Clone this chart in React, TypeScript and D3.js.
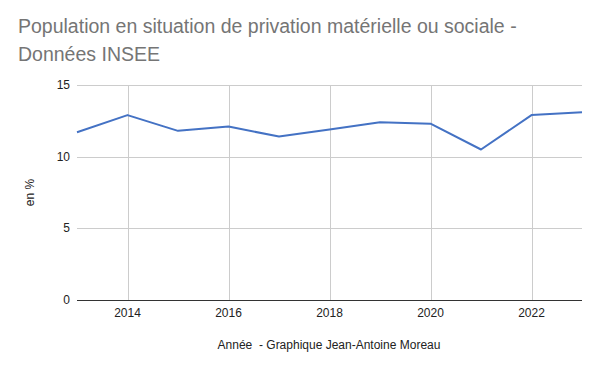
import { useEffect, useRef } from "react"
import * as d3 from "d3"

const years = [2013, 2014, 2015, 2016, 2017, 2018, 2019, 2020, 2021, 2022, 2023]
const values = [11.7, 12.9, 11.8, 12.1, 11.4, 11.9, 12.4, 12.3, 10.5, 12.9, 13.1]
const yTicks = [0, 5, 10, 15]
const xTicks = [2014, 2016, 2018, 2020, 2022]

export default function App() {
  const svgRef = useRef(null)

  useEffect(() => {
    if (!svgRef.current) return
    const svg = d3.select(svgRef.current)
    svg.selectAll("*").remove()

    const width = 600
    const height = 371
    const margin = { top: 85, right: 18, bottom: 71, left: 77 }
    const font = "'Liberation Sans', Arial, sans-serif"

    const x = d3.scaleLinear().domain([2013, 2023]).range([margin.left, width - margin.right])
    const y = d3.scaleLinear().domain([0, 15]).range([height - margin.bottom, margin.top])

    svg.append("rect").attr("width", width).attr("height", height).attr("fill", "#fff")

    // titre
    const title = svg
      .append("text")
      .attr("x", 18)
      .attr("font-family", font)
      .attr("font-size", "19.5px")
      .attr("fill", "#757575")
    title.append("tspan").attr("x", 18).attr("y", 33).text("Population en situation de privation matérielle ou sociale -")
    title.append("tspan").attr("x", 18).attr("y", 61).text("Données INSEE")

    // grille horizontale
    svg
      .append("g")
      .selectAll("line")
      .data(yTicks.filter((d) => d > 0))
      .enter()
      .append("line")
      .attr("x1", margin.left)
      .attr("x2", width - margin.right)
      .attr("y1", (d) => Math.round(y(d)) + 0.5)
      .attr("y2", (d) => Math.round(y(d)) + 0.5)
      .attr("stroke", "#cccccc")

    // grille verticale
    svg
      .append("g")
      .selectAll("line")
      .data(xTicks)
      .enter()
      .append("line")
      .attr("x1", (d) => Math.round(x(d)) + 0.5)
      .attr("x2", (d) => Math.round(x(d)) + 0.5)
      .attr("y1", margin.top)
      .attr("y2", height - margin.bottom)
      .attr("stroke", "#cccccc")

    // ligne de base
    svg
      .append("line")
      .attr("x1", margin.left)
      .attr("x2", width - margin.right)
      .attr("y1", Math.round(y(0)) + 0.5)
      .attr("y2", Math.round(y(0)) + 0.5)
      .attr("stroke", "#333333")

    // étiquettes Y
    svg
      .append("g")
      .selectAll("text")
      .data(yTicks)
      .enter()
      .append("text")
      .attr("x", margin.left - 7)
      .attr("y", (d) => y(d) + 4)
      .attr("text-anchor", "end")
      .attr("font-family", font)
      .attr("font-size", "12px")
      .attr("fill", "#222")
      .text((d) => d)

    // étiquettes X
    svg
      .append("g")
      .selectAll("text")
      .data(xTicks)
      .enter()
      .append("text")
      .attr("x", (d) => x(d))
      .attr("y", y(0) + 17)
      .attr("text-anchor", "middle")
      .attr("font-family", font)
      .attr("font-size", "12px")
      .attr("fill", "#222")
      .text((d) => d)

    // titres des axes
    svg
      .append("text")
      .attr("transform", `translate(34, ${(margin.top + height - margin.bottom) / 2}) rotate(-90)`)
      .attr("text-anchor", "middle")
      .attr("font-family", font)
      .attr("font-size", "12px")
      .attr("fill", "#222")
      .text("en %")

    svg
      .append("text")
      .attr("x", 329)
      .attr("y", 349)
      .attr("text-anchor", "middle")
      .attr("font-family", font)
      .attr("font-size", "12px")
      .attr("fill", "#222")
      .attr("xml:space", "preserve")
      .style("white-space", "pre")
      .text("Année  - Graphique Jean-Antoine Moreau")

    // courbe
    const line = d3
      .line<number>()
      .x((_, i) => x(years[i]))
      .y((d) => y(d))

    svg
      .append("path")
      .datum(values)
      .attr("d", line)
      .attr("fill", "none")
      .attr("stroke", "#4472c4")
      .attr("stroke-width", 2)
      .attr("stroke-linejoin", "round")

    svg.attr("width", width).attr("height", height).attr("viewBox", [0, 0, width, height])
  }, [])

  return (
    <div style={{ position: "absolute", left: 0, top: 0 }}>
      <svg ref={svgRef} style={{ display: "block" }}></svg>
    </div>
  )
}
